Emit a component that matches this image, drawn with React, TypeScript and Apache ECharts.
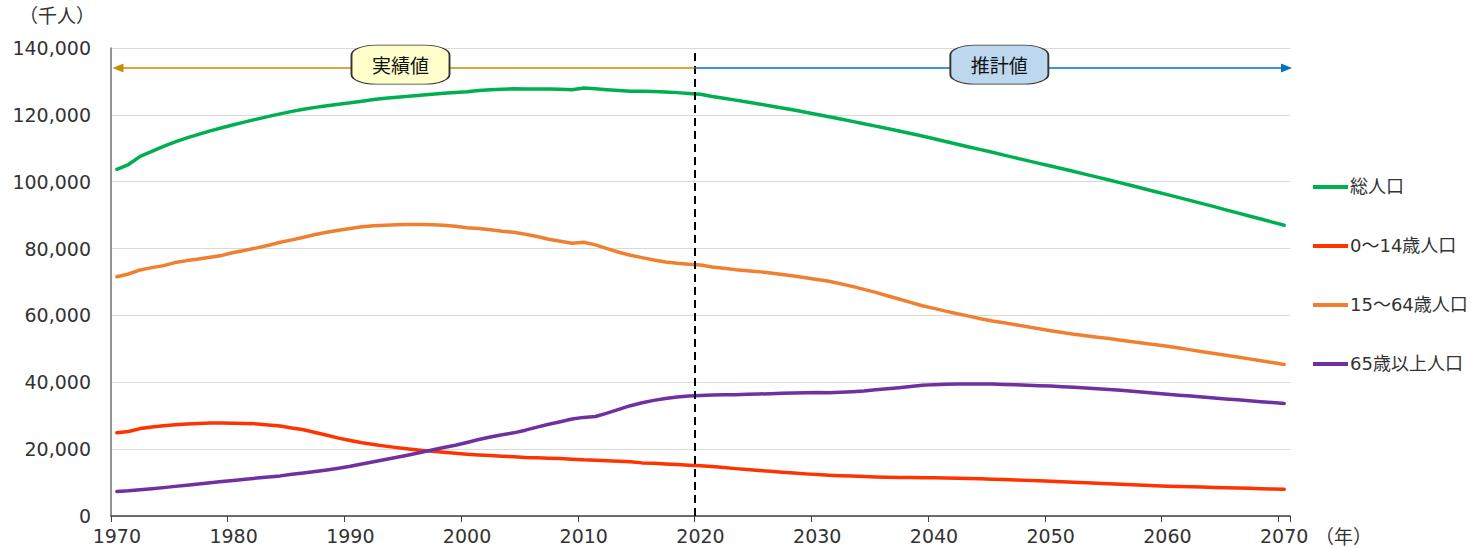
import React, { useEffect, useRef } from "react";
import * as echarts from "echarts";

const years: string[] = Array.from({ length: 101 }, (_, i) => String(1970 + i));

const seriesNames = ["総人口", "0～14歳人口", "15～64歳人口", "65歳以上人口"];

const total = [
  103720, 105145, 107595, 109104, 110573, 111940, 113094, 114165, 115190, 116155,
  117060, 117902, 118728, 119536, 120305, 121049, 121660, 122239, 122745, 123205,
  123611, 124101, 124567, 124938, 125265, 125570, 125859, 126157, 126472, 126667,
  126926, 127316, 127486, 127694, 127787, 127768, 127770, 127771, 127692, 127510,
  128057, 127799, 127515, 127298, 127083, 127095, 127000, 126850, 126650, 126400,
  126146, 125502, 124947, 124408, 123844, 123262, 122664, 122050, 121424, 120784,
  120116, 119436, 118748, 118053, 117350, 116639, 115918, 115186, 114444, 113674,
  112837, 112022, 111214, 110402, 109587, 108801, 107962, 107137, 106316, 105499,
  104686, 103871, 103045, 102209, 101364, 100508, 99644, 98772, 97894, 97014,
  96148, 95256, 94356, 93449, 92536, 91587, 90670, 89749, 88828, 87909, 86996,
];

const age0to14 = [
  24900, 25300, 26150, 26600, 27000, 27300, 27500, 27700, 27800, 27800,
  27750, 27700, 27550, 27250, 26900, 26300, 25800, 25000, 24150, 23300,
  22600, 21900, 21400, 20900, 20450, 20050, 19700, 19350, 19050, 18750,
  18470, 18280, 18100, 17900, 17730, 17520, 17430, 17290, 17180, 17010,
  16800, 16700, 16550, 16390, 16230, 15890, 15780, 15590, 15420, 15210,
  15032, 14784, 14502, 14172, 13903, 13633, 13356, 13085, 12835, 12602,
  12397, 12217, 12065, 11939, 11808, 11691, 11597, 11531, 11487, 11457,
  11419, 11370, 11310, 11240, 11140, 11027, 10906, 10783, 10657, 10531,
  10406, 10256, 10106, 9956, 9807, 9659, 9512, 9367, 9222, 9076,
  8930, 8832, 8738, 8646, 8557, 8471, 8372, 8272, 8172, 8073, 7975,
];

const age15to64 = [
  71566, 72400, 73600, 74300, 74900, 75807, 76400, 76900, 77400, 77950,
  78835, 79500, 80200, 81000, 81900, 82600, 83400, 84200, 84900, 85500,
  86000, 86500, 86800, 87000, 87100, 87165, 87200, 87100, 86950, 86700,
  86220, 86000, 85600, 85200, 84900, 84300, 83600, 82800, 82200, 81600,
  81900, 81100, 80000, 78900, 78000, 77300, 76600, 76000, 75600, 75300,
  75088, 74500, 74100, 73700, 73400, 73101, 72700, 72250, 71800, 71300,
  70757, 70200, 69500, 68700, 67800, 66900, 65900, 64900, 63900, 62900,
  62100, 61300, 60500, 59800, 59000, 58323, 57800, 57200, 56600, 56000,
  55402, 54900, 54400, 53950, 53500, 53070, 52600, 52150, 51700, 51250,
  50781, 50250, 49700, 49150, 48600, 48093, 47550, 47000, 46450, 45900, 45350,
];

const age65plus = [
  7331, 7530, 7840, 8160, 8490, 8865, 9190, 9540, 9920, 10300,
  10647, 11000, 11350, 11670, 12000, 12468, 12870, 13320, 13785, 14310,
  14895, 15580, 16240, 16900, 17585, 18261, 19017, 19758, 20508, 21186,
  22005, 22870, 23630, 24310, 24876, 25672, 26604, 27464, 28216, 29005,
  29500, 29752, 30793, 31898, 33000, 33868, 34591, 35152, 35578, 35885,
  36027, 36200, 36250, 36300, 36400, 36500, 36600, 36700, 36800, 36900,
  36960, 36900, 37050, 37200, 37400, 37800, 38100, 38400, 38750, 39100,
  39300, 39400, 39480, 39520, 39500, 39451, 39350, 39250, 39100, 39000,
  38878, 38700, 38500, 38300, 38080, 37850, 37600, 37320, 37030, 36740,
  36437, 36150, 35870, 35590, 35310, 35025, 34750, 34480, 34210, 33940, 33671,
];

const colors = ["#00B050", "#FF3300", "#F08030", "#7030A0"];
const boundaryYear = 2020;
const arrowValue = 134000;
const boxValue = 135000;

const LATIN = "'DejaVu Sans', 'Noto Sans CJK JP', sans-serif";
const CJK = "'Noto Sans CJK JP', sans-serif";

export default function App() {
  const ref = useRef<HTMLDivElement>(null);

  useEffect(() => {
    if (!ref.current) return;
    const chart = echarts.init(ref.current, null, { renderer: "svg" });
    const dataSets = [total, age0to14, age15to64, age65plus];

    const option: any = {
      animation: false,
      backgroundColor: "#ffffff",
      grid: { left: 111, right: 181, top: 48, bottom: 32, containLabel: false },
      xAxis: [
        {
          type: "category",
          data: years,
          boundaryGap: true,
          axisLine: { lineStyle: { color: "#404040", width: 1.5 } },
          axisTick: { show: true, interval: 9, length: 6, lineStyle: { color: "#404040" } },
          axisLabel: {
            interval: 9,
            margin: 10,
            fontSize: 19,
            fontFamily: LATIN,
            color: "#333",
          },
          splitLine: { show: false },
        },
        {
          type: "value",
          min: 1970,
          max: 2071,
          show: false,
          splitLine: { show: false },
        },
      ],
      yAxis: {
        type: "value",
        min: 0,
        max: 140000,
        interval: 20000,
        axisLine: { show: true, lineStyle: { color: "#707070", width: 1.5 } },
        axisTick: { show: false },
        axisLabel: {
          margin: 20,
          fontSize: 19,
          fontFamily: LATIN,
          color: "#333",
          formatter: (v: number) => v.toLocaleString("en-US"),
        },
        splitLine: { lineStyle: { color: "#D9D9D9", width: 1.2 } },
      },
      legend: {
        orient: "vertical",
        left: 1308,
        top: 173,
        icon: "rect",
        itemWidth: 35,
        itemHeight: 4,
        itemGap: 41,
        data: seriesNames,
        textStyle: { fontSize: 18, fontFamily: LATIN, color: "#333", padding: [0, 0, 0, -3] },
      },
      series: [
        ...seriesNames.map((name, i) => ({
          name,
          type: "line",
          data: dataSets[i],
          symbol: "none",
          showSymbol: false,
          smooth: false,
          z: 2,
          lineStyle: { color: colors[i], width: 3.5, cap: "round", join: "round" },
          itemStyle: { color: colors[i] },
        })),
        {
          name: "markers-lines",
          type: "line",
          xAxisIndex: 1,
          yAxisIndex: 0,
          data: [],
          z: 4,
          silent: true,
          markLine: {
            silent: true,
            animation: false,
            label: { show: false },
            data: [
              [
                { coord: [boundaryYear, 0], symbol: "none", lineStyle: { color: "#000", width: 2, type: [8, 5] } },
                { coord: [boundaryYear, 140000], symbol: "none" },
              ],
              [
                { coord: [boundaryYear, arrowValue], symbol: "none", lineStyle: { color: "#C09000", width: 1.5, type: "solid" } },
                { coord: [1970.6, arrowValue], symbol: "triangle", symbolSize: [9, 11] },
              ],
              [
                { coord: [boundaryYear, arrowValue], symbol: "none", lineStyle: { color: "#0070C0", width: 1.5, type: "solid" } },
                { coord: [2070.7, arrowValue], symbol: "triangle", symbolSize: [9, 11] },
              ],
            ],
          },
        },
        {
          name: "markers-boxes",
          type: "line",
          xAxisIndex: 1,
          yAxisIndex: 0,
          data: [],
          z: 6,
          silent: true,
          markPoint: {
            silent: true,
            animation: false,
            symbol: "roundRect",
            symbolSize: [98, 39],
            itemStyle: { borderColor: "#333", borderWidth: 1.2 },
            label: {
              show: true,
              position: "inside",
              formatter: "{b}",
              color: "#111",
              fontSize: 19,
              fontFamily: CJK,
            },
            data: [
              { name: "実績値", coord: [1994.8, boxValue], itemStyle: { color: "#FFFFCC", borderColor: "#333", borderWidth: 1.2 } },
              { name: "推計値", coord: [2046.1, boxValue], itemStyle: { color: "#BDD7EE", borderColor: "#333", borderWidth: 1.2 } },
            ],
          },
        },
      ],
      graphic: [
        {
          type: "text",
          left: 19,
          top: 5,
          style: { text: "（千人）", fontSize: 19, fontFamily: CJK, fill: "#333" },
        },
        {
          type: "text",
          left: 1315,
          top: 526,
          style: { text: "（年）", fontSize: 19, fontFamily: CJK, fill: "#333" },
        },
      ],
    };

    chart.setOption(option);
    return () => chart.dispose();
  }, []);

  return (
    <div
      ref={ref}
      style={{ position: "fixed", left: 0, top: 0, width: 1471, height: 548, background: "#fff" }}
    />
  );
}
